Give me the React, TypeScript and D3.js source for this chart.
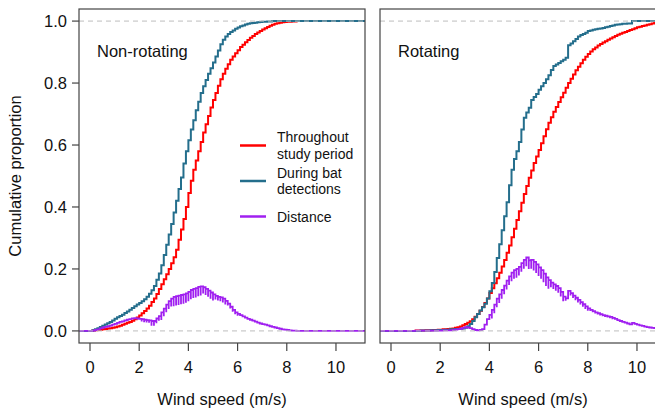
import React from "react";
import * as d3 from "d3";

// ECDF values every 0.1 m/s, starting at 0 m/s
const speedStep = 0.1;

const xTicks = [0, 2, 4, 6, 8, 10];
const yTicks = [0, 0.2, 0.4, 0.6, 0.8, 1.0];

// Non-rotating panel (0.0 .. 8.5 m/s)
const nonRotThroughout = [
  0.000, 0.001, 0.002, 0.003, 0.004, 0.005, 0.006, 0.008, 0.009, 0.010,
  0.012, 0.014, 0.017, 0.020, 0.023, 0.026, 0.029, 0.033, 0.038, 0.043,
  0.050, 0.057, 0.064, 0.072, 0.081, 0.093, 0.105, 0.119, 0.135, 0.151,
  0.167, 0.183, 0.200, 0.218, 0.238, 0.262, 0.294, 0.327, 0.361, 0.400,
  0.445, 0.485, 0.520, 0.550, 0.580, 0.610, 0.640, 0.667, 0.694, 0.721,
  0.745, 0.768, 0.791, 0.812, 0.830, 0.846, 0.861, 0.875, 0.886, 0.896,
  0.906, 0.916, 0.924, 0.932, 0.939, 0.946, 0.952, 0.958, 0.963, 0.968,
  0.973, 0.977, 0.981, 0.985, 0.988, 0.991, 0.993, 0.995, 0.996, 0.997,
  0.998, 0.998, 0.999, 0.999, 1.000, 1.000,
];
const nonRotDuring = [
  0.000, 0.002, 0.005, 0.009, 0.013, 0.017, 0.021, 0.025, 0.029, 0.034,
  0.039, 0.044, 0.048, 0.052, 0.058, 0.063, 0.068, 0.074, 0.080, 0.085,
  0.090, 0.096, 0.102, 0.110, 0.120, 0.131, 0.145, 0.165, 0.185, 0.212,
  0.245, 0.278, 0.311, 0.345, 0.382, 0.420, 0.458, 0.495, 0.540, 0.580,
  0.615, 0.650, 0.680, 0.712, 0.740, 0.768, 0.790, 0.810, 0.830, 0.848,
  0.866, 0.886, 0.905, 0.925, 0.940, 0.950, 0.958, 0.965, 0.970, 0.975,
  0.979, 0.983, 0.986, 0.989, 0.991, 0.993, 0.994, 0.995, 0.996, 0.997,
  0.998, 0.998, 0.999, 0.999, 1.000, 1.000, 1.000, 1.000, 1.000, 1.000,
  1.000, 1.000, 1.000, 1.000, 1.000, 1.000,
];
// distance curve is jagged: upper and lower edge of the jitter band
const nonRotDistanceHi = [
  0.000, 0.001, 0.003, 0.005, 0.008, 0.011, 0.013, 0.015, 0.017, 0.020,
  0.023, 0.026, 0.029, 0.031, 0.034, 0.036, 0.038, 0.040, 0.041, 0.040,
  0.039, 0.038, 0.036, 0.035, 0.034, 0.032, 0.032, 0.040, 0.048, 0.060,
  0.072, 0.085, 0.096, 0.104, 0.110, 0.112, 0.114, 0.116, 0.118, 0.121,
  0.126, 0.132, 0.136, 0.138, 0.142, 0.144, 0.141, 0.136, 0.130, 0.124,
  0.118, 0.113, 0.110, 0.108, 0.104, 0.097, 0.088, 0.078, 0.068, 0.060,
  0.055, 0.051, 0.047, 0.043, 0.039, 0.036, 0.033, 0.030, 0.027, 0.024,
  0.022, 0.020, 0.018, 0.015, 0.013, 0.011, 0.009, 0.007, 0.005, 0.004,
  0.003, 0.002, 0.001, 0.001, 0.000, 0.000,
];
const nonRotDistanceLo = [
  0.000, 0.001, 0.003, 0.005, 0.008, 0.011, 0.013, 0.015, 0.017, 0.020,
  0.023, 0.026, 0.029, 0.031, 0.034, 0.036, 0.035, 0.037, 0.038, 0.037,
  0.036, 0.030, 0.028, 0.027, 0.026, 0.017, 0.017, 0.025, 0.033, 0.035,
  0.047, 0.060, 0.071, 0.079, 0.080, 0.082, 0.084, 0.086, 0.088, 0.091,
  0.096, 0.102, 0.106, 0.108, 0.112, 0.114, 0.121, 0.116, 0.110, 0.104,
  0.098, 0.101, 0.098, 0.096, 0.092, 0.085, 0.082, 0.072, 0.062, 0.054,
  0.049, 0.048, 0.044, 0.040, 0.036, 0.033, 0.030, 0.027, 0.024, 0.021,
  0.019, 0.020, 0.018, 0.015, 0.013, 0.011, 0.009, 0.007, 0.005, 0.004,
  0.003, 0.002, 0.001, 0.001, 0.000, 0.000,
];

// Rotating panel (0.0 .. 11.0 m/s)
const rotThroughout = [
  0.000, 0.000, 0.000, 0.000, 0.000, 0.000, 0.000, 0.000, 0.000, 0.000,
  0.001, 0.001, 0.001, 0.001, 0.002, 0.002, 0.002, 0.003, 0.003, 0.004,
  0.004, 0.005, 0.005, 0.006, 0.007, 0.008, 0.010, 0.012, 0.014, 0.018,
  0.022, 0.026, 0.031, 0.038, 0.046, 0.055, 0.065, 0.077, 0.090, 0.105,
  0.122, 0.138, 0.154, 0.170, 0.188, 0.208, 0.229, 0.252, 0.276, 0.302,
  0.330, 0.358, 0.386, 0.414, 0.442, 0.468, 0.494, 0.518, 0.542, 0.563,
  0.584, 0.606, 0.628, 0.651, 0.672, 0.690, 0.707, 0.723, 0.739, 0.754,
  0.769, 0.785, 0.800, 0.814, 0.828, 0.841, 0.853, 0.864, 0.875, 0.885,
  0.894, 0.902, 0.909, 0.915, 0.921, 0.926, 0.931, 0.935, 0.940, 0.944,
  0.948, 0.952, 0.956, 0.959, 0.962, 0.965, 0.968, 0.971, 0.974, 0.977,
  0.980, 0.982, 0.984, 0.986, 0.988, 0.990, 0.992, 0.994, 0.995, 0.996,
  0.997,
];
const rotDuring = [
  0.000, 0.000, 0.000, 0.000, 0.000, 0.000, 0.000, 0.000, 0.000, 0.000,
  0.000, 0.000, 0.001, 0.001, 0.001, 0.001, 0.002, 0.002, 0.002, 0.003,
  0.003, 0.003, 0.004, 0.004, 0.005, 0.005, 0.006, 0.006, 0.007, 0.008,
  0.010, 0.015, 0.022, 0.032, 0.044, 0.055, 0.066, 0.076, 0.088, 0.105,
  0.128, 0.155, 0.190, 0.235, 0.280, 0.325, 0.370, 0.415, 0.470, 0.520,
  0.555, 0.580, 0.610, 0.650, 0.688, 0.705, 0.720, 0.745, 0.755, 0.765,
  0.778, 0.790, 0.800, 0.812, 0.825, 0.842, 0.855, 0.860, 0.865, 0.870,
  0.875, 0.882, 0.922, 0.928, 0.935, 0.942, 0.950, 0.955, 0.958, 0.962,
  0.968, 0.970, 0.972, 0.974, 0.975, 0.976, 0.978, 0.980, 0.982, 0.984,
  0.986, 0.988, 0.989, 0.990, 0.991, 0.991, 0.992, 0.992, 1.000, 1.000,
  1.000, 1.000, 1.000, 1.000, 1.000, 1.000, 1.000, 1.000, 1.000, 1.000,
  1.000,
];
const rotDistanceHi = [
  0.000, 0.000, 0.000, 0.000, 0.000, 0.000, 0.000, 0.000, 0.000, 0.000,
  0.001, 0.001, 0.001, 0.001, 0.001, 0.001, 0.001, 0.001, 0.001, 0.001,
  0.001, 0.002, 0.002, 0.002, 0.002, 0.003, 0.004, 0.006, 0.007, 0.010,
  0.012, 0.011, 0.009, 0.006, 0.003, 0.002, 0.003, 0.006, 0.020, 0.038,
  0.052, 0.068, 0.085, 0.104, 0.118, 0.132, 0.146, 0.162, 0.176, 0.188,
  0.196, 0.200, 0.207, 0.219, 0.229, 0.237, 0.228, 0.229, 0.223, 0.215,
  0.205, 0.196, 0.185, 0.173, 0.164, 0.156, 0.150, 0.145, 0.138, 0.126,
  0.111, 0.105, 0.129, 0.122, 0.114, 0.107, 0.100, 0.093, 0.086, 0.079,
  0.073, 0.068, 0.064, 0.060, 0.057, 0.054, 0.051, 0.049, 0.047, 0.045,
  0.042, 0.039, 0.035, 0.032, 0.029, 0.027, 0.024, 0.021, 0.026, 0.023,
  0.020, 0.018, 0.016, 0.014, 0.012, 0.011, 0.010, 0.009, 0.008, 0.007,
  0.006,
];
const rotDistanceLo = [
  0.000, 0.000, 0.000, 0.000, 0.000, 0.000, 0.000, 0.000, 0.000, 0.000,
  0.001, 0.001, 0.001, 0.001, 0.001, 0.001, 0.001, 0.001, 0.001, 0.001,
  0.001, 0.002, 0.002, 0.002, 0.002, 0.003, 0.004, 0.006, 0.007, 0.010,
  0.012, 0.011, 0.009, 0.006, 0.003, 0.002, 0.003, 0.006, 0.010, 0.028,
  0.042, 0.040, 0.057, 0.076, 0.090, 0.104, 0.118, 0.134, 0.148, 0.160,
  0.168, 0.172, 0.179, 0.191, 0.201, 0.209, 0.200, 0.201, 0.195, 0.187,
  0.177, 0.168, 0.157, 0.145, 0.136, 0.141, 0.135, 0.130, 0.123, 0.111,
  0.096, 0.097, 0.121, 0.114, 0.106, 0.099, 0.092, 0.085, 0.078, 0.071,
  0.065, 0.064, 0.060, 0.056, 0.053, 0.050, 0.047, 0.045, 0.043, 0.041,
  0.038, 0.039, 0.035, 0.032, 0.029, 0.027, 0.024, 0.021, 0.026, 0.023,
  0.020, 0.018, 0.016, 0.014, 0.012, 0.011, 0.010, 0.009, 0.008, 0.007,
  0.006,
];

const RED = "#ff0000";
const BLUE = "#246e8c";
const PURPLE = "#a020f0";
const FONT = "'Liberation Sans', Arial, Helvetica, sans-serif";

const legendItems = [
  { lines: ["Throughout", "study period"], color: RED },
  { lines: ["During bat", "detections"], color: BLUE },
  { lines: ["Distance"], color: PURPLE },
];

const W = 655;
const H = 414;
const plotTop = 9;
const plotBottom = 343;
const xDomain: [number, number] = [-0.447, 11.18];
const yDomain: [number, number] = [-0.039, 1.039];

const panels = [
  {
    label: "Non-rotating", left: 79, right: 365, showY: true,
    throughout: nonRotThroughout, during: nonRotDuring,
    distHi: nonRotDistanceHi, distLo: nonRotDistanceLo,
  },
  {
    label: "Rotating", left: 380, right: 666, showY: false,
    throughout: rotThroughout, during: rotDuring,
    distHi: rotDistanceHi, distLo: rotDistanceLo,
  },
];

type Pt = [number, number];

function Panel({ p, idx }: { p: (typeof panels)[number]; idx: number }) {
  const x = d3.scaleLinear().domain(xDomain).range([p.left, p.right]);
  const y = d3.scaleLinear().domain(yDomain).range([plotBottom, plotTop]);
  const line = d3
    .line<Pt>()
    .x((d) => x(d[0]))
    .y((d) => y(d[1]))
    .curve(d3.curveStepAfter);

  // ecdf drawn as a step function, extended flat to both panel edges
  const stepPath = (vals: number[]) => {
    const pts: Pt[] = vals.map((v, i) => [i * speedStep, v]);
    pts.unshift([xDomain[0], vals[0]]);
    pts.push([xDomain[1], vals[vals.length - 1]]);
    return line(pts) || "";
  };

  // jagged distance: at every step drop to the low edge, then back up
  const hatchPath = (hi: number[], lo: number[]) => {
    const pts: Pt[] = [[xDomain[0], lo[0]]];
    hi.forEach((h, i) => {
      pts.push([i * speedStep, lo[i]]);
      pts.push([i * speedStep, h]);
    });
    pts.push([xDomain[1], hi[hi.length - 1]]);
    return line(pts) || "";
  };

  const cx = (p.left + p.right) / 2;

  return (
    <g>
      <defs>
        <clipPath id={`clip-${idx}`}>
          <rect x={p.left} y={plotTop} width={p.right - p.left} height={plotBottom - plotTop} />
        </clipPath>
      </defs>
      <g clipPath={`url(#clip-${idx})`} fill="none">
        <path d={stepPath(p.throughout)} stroke={RED} strokeWidth={2} />
        <path d={stepPath(p.during)} stroke={BLUE} strokeWidth={2} />
        <path d={hatchPath(p.distHi, p.distLo)} stroke={PURPLE} strokeWidth={1.8} />
        {[0, 1].map((v) => (
          <line
            key={v}
            x1={p.left}
            x2={p.right}
            y1={y(v)}
            y2={y(v)}
            stroke="#bdbdbd"
            strokeWidth={1}
            strokeDasharray="5,4"
          />
        ))}
      </g>
      <rect
        x={p.left}
        y={plotTop}
        width={p.right - p.left}
        height={plotBottom - plotTop}
        fill="none"
        stroke="#444"
        strokeWidth={1.2}
      />
      {xTicks.map((t) => (
        <g key={t} transform={`translate(${x(t)},${plotBottom})`}>
          <line y2={8} stroke="#444" strokeWidth={1.2} />
          <text y={30} textAnchor="middle" fontSize={16.5} fill="#111">
            {t}
          </text>
        </g>
      ))}
      {p.showY &&
        yTicks.map((t) => (
          <g key={t} transform={`translate(${p.left},${y(t)})`}>
            <line x2={-7} stroke="#444" strokeWidth={1.2} />
            <text x={-12} dy="0.35em" textAnchor="end" fontSize={16.5} fill="#111">
              {t.toFixed(1)}
            </text>
          </g>
        ))}
      <text x={p.left + 18} y={57} fontSize={16.5} fill="#111">
        {p.label}
      </text>
      <text x={cx} y={405} textAnchor="middle" fontSize={16.5} fill="#111">
        Wind speed (m/s)
      </text>
    </g>
  );
}

function Legend() {
  const lineX1 = 240;
  const lineX2 = 266;
  const rows = [145.5, 181, 216.5];
  return (
    <g fontSize={14} fill="#111">
      {legendItems.map((item, i) => {
        const cy = rows[i];
        const lh = 16.5;
        const first = cy + 5 - ((item.lines.length - 1) * lh) / 2;
        return (
          <g key={item.lines[0]}>
            <line x1={lineX1} x2={lineX2} y1={cy} y2={cy} stroke={item.color} strokeWidth={2.5} />
            {item.lines.map((l, j) => (
              <text key={l} x={277} y={first + j * lh}>
                {l}
              </text>
            ))}
          </g>
        );
      })}
    </g>
  );
}

export default function App() {
  return (
    <div style={{ position: "absolute", left: 0, top: 0 }}>
      <svg width={W} height={H} style={{ display: "block", background: "#fff", fontFamily: FONT }}>
        {panels.map((p, i) => (
          <Panel key={p.label} p={p} idx={i} />
        ))}
        <Legend />
        <text
          transform={`translate(21,${(plotTop + plotBottom) / 2}) rotate(-90)`}
          textAnchor="middle"
          fontSize={16.5}
          fill="#111"
        >
          Cumulative proportion
        </text>
      </svg>
    </div>
  );
}
